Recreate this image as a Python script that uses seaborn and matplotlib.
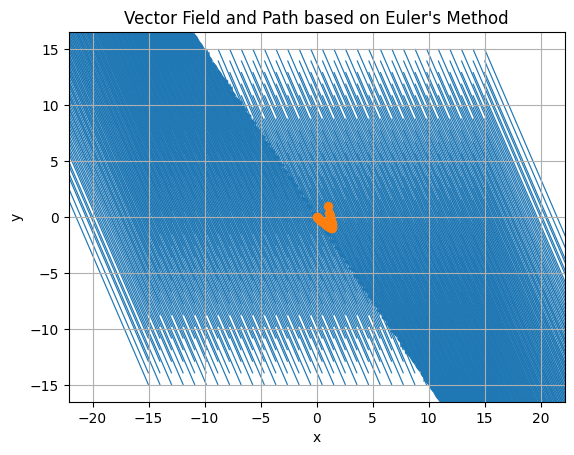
import numpy as np
import matplotlib
matplotlib.use("Agg")
import matplotlib.pyplot as plt
import seaborn as sns

# grid of the vector field (30 x 30 points from -15 to 15)
grid_x = np.linspace(-15, 15, 30)
grid_y = np.linspace(-15, 15, 30)

# field coefficients: u = ux_a*x + ux_b*y, v = vy_c*x + vy_d*y
ux_a, ux_b = 1.83, 1.22
vy_c, vy_d = -4.24, -2.83

# Euler path
path_x = [1.0, 1.12, 1.18, 1.24, 1.29, 1.34, 1.38, 1.41, 1.42, 1.39, 1.3, 1.15,
          1.0, 0.85, 0.7, 0.55, 0.42, 0.3, 0.2, 0.12, 0.06, 0.02, 0.0]
path_y = [1.0, 0.38, 0.15, -0.08, -0.3, -0.5, -0.68, -0.82, -0.92, -0.97, -0.95, -0.88,
          -0.79, -0.69, -0.58, -0.46, -0.35, -0.25, -0.17, -0.1, -0.05, -0.02, 0.0]

X, Y = np.meshgrid(grid_x, grid_y)
U = ux_a * X + ux_b * Y
V = vy_c * X + vy_d * Y

fig, ax = plt.subplots(figsize=(6.4, 4.8), dpi=100)
ax.quiver(X, Y, U, V, color='C0', angles='xy', scale_units='xy', scale=1)
sns.lineplot(x=path_x, y=path_y, sort=False, estimator=None, marker='o',
             color='C1', markeredgecolor='C1', ax=ax)
ax.set_title("Vector Field and Path based on Euler's Method")
ax.set_xlabel('x')
ax.set_ylabel('y')
ax.grid(True)
ax.axis('equal')
fig.savefig('out.png', bbox_inches='tight')
